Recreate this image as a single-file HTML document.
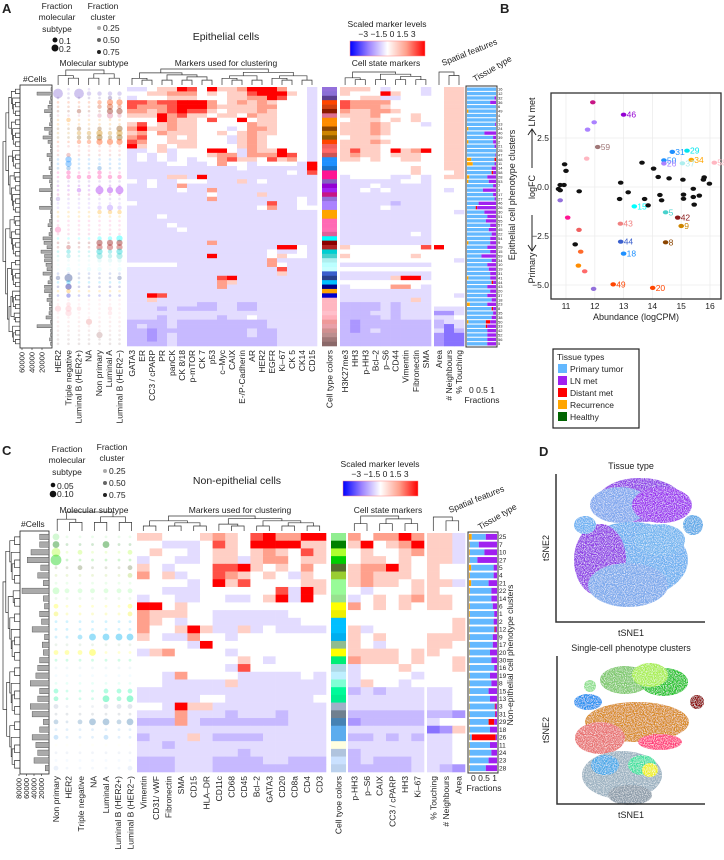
<!DOCTYPE html>
<html><head><meta charset="utf-8">
<style>
html,body{margin:0;padding:0;background:#fff;}
svg{display:block;font-family:"Liberation Sans",sans-serif;}
text{fill:#222;}
</style></head>
<body>
<svg id="fig" width="724" height="860" viewBox="0 0 724 860" xmlns="http://www.w3.org/2000/svg">
<defs>
<linearGradient id="cbar" x1="0" x2="1" y1="0" y2="0">
<stop offset="0" stop-color="#0000ff"/><stop offset="0.25" stop-color="#9b82ff"/><stop offset="0.5" stop-color="#ffffff"/><stop offset="0.75" stop-color="#ffa08c"/><stop offset="1" stop-color="#ff0000"/>
</linearGradient>
<filter id="speck" x="0" y="0" width="1" height="1">
<feTurbulence type="fractalNoise" baseFrequency="0.9" numOctaves="2" seed="3" result="n"/>
<feColorMatrix in="n" type="matrix" values="0 0 0 0 1  0 0 0 0 1  0 0 0 0 1  0 0 0 -2.2 1.25" result="m"/>
<feComposite in="m" in2="SourceGraphic" operator="in" result="w"/>
<feMerge><feMergeNode in="SourceGraphic"/><feMergeNode in="w"/></feMerge>
</filter>
</defs>

<g font-size="8.5">
<text x="2" y="13" font-size="13" font-weight="bold">A</text>
<text x="57" y="9" text-anchor="middle">Fraction</text>
<text x="57" y="20" text-anchor="middle">molecular</text>
<text x="57" y="32" text-anchor="middle">subtype</text>
<circle cx="55" cy="40" r="2.5" fill="#111"/>
<text x="59" y="44">0.1</text>
<circle cx="55" cy="48" r="3.5" fill="#111"/>
<text x="59" y="52">0.2</text>
<text x="103" y="9" text-anchor="middle">Fraction</text>
<text x="103" y="20" text-anchor="middle">cluster</text>
<circle cx="99" cy="28" r="2" fill="#aaa"/>
<text x="103" y="31">0.25</text>
<circle cx="99" cy="40" r="2" fill="#666"/>
<text x="103" y="43">0.50</text>
<circle cx="99" cy="52" r="2" fill="#222"/>
<text x="103" y="55">0.75</text>
<text x="226" y="40" text-anchor="middle" font-size="10.5">Epithelial cells</text>
<text x="387" y="27" text-anchor="middle">Scaled marker levels</text>
<text x="387" y="37" text-anchor="middle">−3 −1.5 0  1.5  3</text>
<rect x="350" y="41" width="75" height="15" fill="url(#cbar)" stroke="#f88" stroke-width="0.5"/>
<text x="94" y="66" text-anchor="middle">Molecular subtype</text>
<text x="226" y="66" text-anchor="middle">Markers used for clustering</text>
<text x="386" y="66" text-anchor="middle">Cell state markers</text>
<text x="443" y="66" transform="rotate(-22 443 66)">Spatial features</text>
<text x="475" y="82" transform="rotate(-30 475 82)">Tissue type</text>
<text x="23" y="82">#Cells</text>
<text x="482" y="403" text-anchor="middle">Fractions</text>
<text x="482" y="393" text-anchor="middle">0  0.5  1</text>
</g>

<g font-size="8.5">
<text x="2" y="455" font-size="13" font-weight="bold">C</text>
<text x="67" y="452" text-anchor="middle">Fraction</text>
<text x="67" y="463" text-anchor="middle">molecular</text>
<text x="67" y="475" text-anchor="middle">subtype</text>
<circle cx="53" cy="485" r="2.3" fill="#111"/>
<text x="57" y="489">0.05</text>
<circle cx="53" cy="494" r="3.3" fill="#111"/>
<text x="57" y="497">0.10</text>
<text x="112" y="450" text-anchor="middle">Fraction</text>
<text x="112" y="461" text-anchor="middle">cluster</text>
<circle cx="105" cy="471" r="2" fill="#aaa"/>
<text x="109" y="474">0.25</text>
<circle cx="105" cy="483" r="2" fill="#666"/>
<text x="109" y="486">0.50</text>
<circle cx="105" cy="495" r="2" fill="#222"/>
<text x="109" y="498">0.75</text>
<text x="237" y="484" text-anchor="middle" font-size="10.5">Non-epithelial cells</text>
<text x="380" y="467" text-anchor="middle">Scaled marker levels</text>
<text x="380" y="477" text-anchor="middle">−3 −1.5 0  1.5  3</text>
<rect x="343" y="481" width="75" height="15" fill="url(#cbar)" stroke="#f88" stroke-width="0.5"/>
<text x="94" y="513" text-anchor="middle">Molecular subtype</text>
<text x="240" y="513" text-anchor="middle">Markers used for clustering</text>
<text x="388" y="513" text-anchor="middle">Cell state markers</text>
<text x="450" y="513" transform="rotate(-22 450 513)">Spatial features</text>
<text x="480" y="530" transform="rotate(-30 480 530)">Tissue type</text>
<text x="21" y="527">#Cells</text>
<text x="484" y="791" text-anchor="middle">Fractions</text>
<text x="484" y="781" text-anchor="middle">0  0.5  1</text>
<text x="513" y="655" transform="rotate(-90 513 655)" text-anchor="middle">Non-epithelial cell phenotype clusters</text>
</g>

<g font-size="8.5">
<text x="500" y="13" font-size="13" font-weight="bold">B</text>
<text x="515" y="195" transform="rotate(-90 515 195)" text-anchor="middle" font-size="9">Epithelial cell phenotype clusters</text>
<text x="636" y="320" text-anchor="middle" font-size="9">Abundance (logCPM)</text>
<text x="535" y="187" transform="rotate(-90 535 187)" text-anchor="middle" font-size="9">logFC</text>
<text x="535" y="112" transform="rotate(-90 535 112)" text-anchor="middle" font-size="9">LN met</text>
<text x="535" y="268" transform="rotate(-90 535 268)" text-anchor="middle" font-size="9">Primary</text>
<path d="M532 168 L532 130 M528 135 L532 129 L536 135" stroke="#222" fill="none"/>
<path d="M532 215 L532 250 M528 245 L532 251 L536 245" stroke="#222" fill="none"/>
<g>
<rect x="553" y="349" width="86" height="79" fill="#fff" stroke="#222" stroke-width="1.2"/>
<text x="557" y="360">Tissue types</text>
<rect x="558" y="364" width="9" height="9" fill="#63b8ff"/><text x="570" y="372">Primary tumor</text>
<rect x="558" y="376" width="9" height="9" fill="#a020f0"/><text x="570" y="384">LN met</text>
<rect x="558" y="388" width="9" height="9" fill="#ff0000"/><text x="570" y="396">Distant met</text>
<rect x="558" y="400" width="9" height="9" fill="#ffa500"/><text x="570" y="408">Recurrence</text>
<rect x="558" y="412" width="9" height="9" fill="#006400"/><text x="570" y="420">Healthy</text>
</g>
</g>

<g font-size="9">
<text x="539" y="456" font-size="13" font-weight="bold">D</text>
<text x="631" y="469" text-anchor="middle">Tissue type</text>
<g filter="url(#speck)">
<ellipse cx="640" cy="500" rx="42" ry="22" fill="#8f3fe8"/>
<ellipse cx="620" cy="505" rx="30" ry="18" fill="#7ea6ee"/>
<ellipse cx="662" cy="505" rx="30" ry="18" fill="#9b30f0"/>
<ellipse cx="632" cy="560" rx="56" ry="38" fill="#6aaef0"/>
<ellipse cx="600" cy="560" rx="26" ry="36" fill="#8f40e6"/>
<ellipse cx="628" cy="585" rx="40" ry="22" fill="#7aa8ec"/>
<ellipse cx="585" cy="525" rx="11" ry="9" fill="#6ab0f2"/>
<ellipse cx="693" cy="525" rx="10" ry="10" fill="#5aa8e8"/>
<ellipse cx="660" cy="540" rx="25" ry="16" fill="#70b4f0"/>
</g>
<path d="M556 474 L556 622 L705 622" stroke="#333" stroke-width="1.5" fill="none"/>
<text x="549" y="548" transform="rotate(-90 549 548)" text-anchor="middle">tSNE2</text>
<text x="631" y="636" text-anchor="middle">tSNE1</text>
<text x="631" y="651" text-anchor="middle">Single-cell phenotype clusters</text>
<g filter="url(#speck)">
<ellipse cx="625" cy="680" rx="25" ry="14" fill="#7cc86a"/>
<ellipse cx="664" cy="682" rx="24" ry="14" fill="#22c42a"/>
<ellipse cx="650" cy="675" rx="18" ry="12" fill="#a8ee50"/>
<ellipse cx="637" cy="722" rx="52" ry="20" fill="#d88a20"/>
<ellipse cx="600" cy="738" rx="25" ry="16" fill="#e87070"/>
<ellipse cx="660" cy="742" rx="22" ry="8" fill="#ff3d7a"/>
<ellipse cx="622" cy="775" rx="40" ry="24" fill="#9ab0c0"/>
<ellipse cx="605" cy="765" rx="14" ry="10" fill="#44a8e8"/>
<ellipse cx="642" cy="765" rx="14" ry="10" fill="#3fe0a0"/>
<ellipse cx="588" cy="702" rx="14" ry="8" fill="#2090f0"/>
<ellipse cx="697" cy="702" rx="7" ry="7" fill="#8b0000"/>
<ellipse cx="590" cy="686" rx="6" ry="6" fill="#90e090"/>
<ellipse cx="650" cy="770" rx="8" ry="7" fill="#f0f020"/>
<ellipse cx="630" cy="795" rx="22" ry="10" fill="#8a9aa8"/>
</g>
<path d="M557 656 L557 804 L705 804" stroke="#333" stroke-width="1.5" fill="none"/>
<text x="549" y="730" transform="rotate(-90 549 730)" text-anchor="middle">tSNE2</text>
<text x="631" y="818" text-anchor="middle">tSNE1</text>
</g>

<g id="dyn"></g>
</svg>

<script>
// ===================== DATA =====================
const aMarkerLabels = ["GATA3","ER","CC3 / cPARP","PR","panCK","CK 8/18","p-mTOR","CK 7","p53","c–Myc","CAIX","E-/P-Cadherin","AR","HER2","EGFR","Ki–67","CK 5","CK14","CD15"];
const aStateLabels = ["H3K27me3","HH3","p-HH3","Bcl–2","p–S6","CD44","Vimentin","Fibronectin","SMA"];
const aSpatialLabels = ["Area","# Neighbours","% Touching"];
const aSubtypeLabels = ["HER2","Triple negative","Luminal B (HER2+)","NA","Non primary","Luminal A","Luminal B (HER2−)"];
const aMarkers = ["3345587485568886443","4455666454557888543","3444555444556687443","7767788864565654443","7666788865555664443","6656787754555654443","5558675545546554443","4448655474484554443","5745655444446554443","6855655444346654443","5646555445456554443","6744545444356544443","7644555444356544443","8545455444456544443","3345344488436558443","3434344456636668743","3434343446755475643","3333443346443444438","3333333333343333338","3333333333333333437","3333553833333333333","4343344433353433333","3343363333333333333","3333343363333333333","3333333343333533333","3333333363333333343","4333333333333373343","3333333333333463344","3333333333333333333","3334333333333333333","3333333333333333333","3333433333333333333","3333343333333333333","3333333333333333333","3333333333333333333","3333333363333333333","3333333333333338843","3333333333333343343","3333333383333345443","3333333333333363333","4444433333333364333","3333333333333337333","3333333333333335333","3333333337833333333","3333333336533333333","3333333336333333333","3333333333333333333","3387333333333333333","3353333333333333333","3333333223322333333","3332322223322333333","3333333333333333333","3332333332334333333","2222322222222233333","2322322222222233333","2212222222223223333","2212322222223223333","2212322222222223333","2222322222222223333"];
const aStates = ["555434443","544485443","445533444","766664444","766654444","655665444","555644454","455545454","555654443","555654444","555654444","455544444","555654444","555544444","575548568","565545554","554544554","444444444","444444454","444444454","344443343","333333443","333433333","334343333","333333333","333333333","333332333","333343333","333333333","333333333","333333333","333333333","333333333","333333343","333333333","333333333","544444447","444444444","544444454","444444444","333333333","444444444","333333333","333335883","444444444","344446643","333333333","333333333","333333353","222232333","222232333","222332333","222232333","212222222","212222222","212322222","222222222","222222222","222222222"];
const aSpatial = ["455","455","455","455","455","455","455","455","455","455","455","455","455","455","455","455","455","455","455","445","455","444","444","434","444","444","444","444","443","444","444","444","444","444","444","444","844","444","444","443","444","444","444","444","444","444","444","443","444","444","333","113","334","233","203","302","100","100","100"];
const aTypeColors = ["#9370db","#8a6fd6","#5a3f8f","#ff4500","#d2400f","#8b1a00","#db7093","#ff8c00","#ff8c00","#8b4500","#cd8500","#8b5a00","#ff4500","#f06060","#ff6a6a","#cd5555","#1e90ff","#1e90ff","#1874cd","#ff1493","#ff1493","#8460c0","#9400d3","#a020f0","#c71585","#9370db","#ab82ff","#ab82ff","#ffa500","#ffa500","#ff69b4","#ff69b4","#ff6eb4","#e0609a","#00ffff","#8b0000","#b22222","#00ced1","#48d1cc","#aeeeee","#bbffff","#c8ffff","#3a5fcd","#27408b","#00bfff","#00008b","#ffa500","#0000cd","#ffb6c1","#ffb6c1","#ffb6c1","#ffc0cb","#ffb0bb","#ee9999","#e8a0a8","#d09090","#bc8f8f","#a07878","#8b6969"];
const aCells = [2000,30000,3000,5000,8000,15000,4000,3000,5000,15000,6000,18000,8000,3000,3000,10000,5000,2000,6000,3000,18000,5000,3000,25000,2000,3000,2000,25000,3000,2000,5000,8000,3000,6000,18000,16000,10000,22000,15000,15000,12000,10000,18000,4000,8000,15000,15000,6000,10000,5000,5000,6000,12000,3000,30000,3000,3000,5000,3000];
const aCellTicks = [60000,40000,20000];
const aDots = ["0101000","5152222","1111121","1111233","1111232","1121133","1111232","1211111","1111111","1121213","1122323","1122323","1122333","1111111","1011111","1211111","1311111","1311111","1211211","1211211","1222222","1111111","1111111","1121434","1111111","2111111","1111111","1111232","1111222","1111111","1111111","1111111","3111111","1111111","1111223","1111333","1211333","1211323","1211323","1111222","1111111","1212212","1111111","2411112","1211111","1311111","1211111","1211111","1111111","1211111","3321121","1311121","1111111","1113111","1111111","1111111","1111311","1111111","1111111"];
const aLN = [0,0,0.05,0.2,0,0,0,0,0.03,0,0.4,0.1,0.1,0.05,0,0.02,0,0.05,0.15,0.1,0.3,0.25,0.1,0.45,0.1,0.05,0.6,0.65,0.4,0.3,0.35,0.2,0.25,0.15,0.2,0.2,0.3,0.2,0.5,0.15,0.3,0.25,0.2,0.2,0.1,0.3,0.2,0.3,0.15,0.3,0.1,0.1,0.15,0.2,0.3,0.3,0.3,0.3,0.3];
const aRec = [0,0,0,0,0,0.05,0,0,0,0.05,0,0,0.05,0,0,0,0.15,0.2,0,0,0.08,0.05,0,0,0,0,0,0,0,0,0,0,0,0,0,0.05,0,0,0,0,0,0,0,0.05,0,0,0,0,0,0.1,0,0,0,0.05,0,0,0,0,0];
const aDist = [0,0,0,0,0,0,0,0,0,0,0,0,0,0,0,0,0.05,0,0,0.05,0,0,0,0,0,0,0,0.05,0,0,0,0,0,0,0,0,0,0,0,0,0,0,0,0,0.05,0,0,0,0,0,0.05,0,0,0.15,0.05,0,0,0,0];
const aRowLabels = ["16","12","32","36","6","49","4","1","13","24","40","39","2","21","25","47","48","11","14","58","28","53","7","3","17","27","46","26","30","51","55","57","45","22","54","9","29","15","59","34","10","19","31","41","44","43","20","37","18","23","8","35","38","50","33","42","52","56","5"];

const cMarkerLabels = ["Vimentin","CD31/ vWF","Fibronectin","SMA","CD15","HLA–DR","CD11c","CD68","CD45","Bcl–2","GATA3","CD20","CD8a","CD4","CD3"];
const cStateLabels = ["p-HH3","p–S6","CAIX","CC3 / cPARP","HH3","Ki–67"];
const cSpatialLabels = ["% Touching","# Neighbours","Area"];
const cSubtypeLabels = ["Non primary","HER2","Triple negative","NA","Luminal A","Luminal B (HER2+)","Luminal B (HER2−)"];
const cMarkers = ["554445654786688","443334754888855","454434554565475","344334553566455","543444778545464","645344765454354","444434857444455","443334444447385","344334433458384","884544444444444","655544333333444","654344333333344","644585335343333","543364434444444","444438444444444","356444434444444","444444445434444","444444437444444","443644443333343","443333353333333","333333333333333","333334433333334","443855333333333","333633323332333","222632222222333","333333333333333","233353222233333","332333333333333","333333332333333","222333222233222","222333222222222"];
const cStates = ["646686","584568","454456","455454","566854","565554","565545","434445","345456","645454","444444","444444","534444","545444","543444","555545","655545","344454","344443","354434","232333","333333","333333","222222","122222","333333","223232","333333","233333","232223","222223"];
const cSpatial = ["553","553","553","553","544","544","553","544","554","554","444","445","445","555","554","544","445","445","444","444","334","334","334","221","344","015","334","334","334","334","321"];
const cTypeColors = ["#90ee90","#008000","#adff2f","#00cd00","#556b2f","#9acd32","#98fb98","#98fb98","#98e28f","#ffff00","#eeee00","#00bfff","#00bfff","#00aeef","#8fbc8f","#ffff00","#00ee76","#add8e6","#bfefff","#7fffd4","#00fa9a","#00ee90","#a0b0c8","#708090","#4682b4","#5cacee","#5cacee","#ffffe0","#b0c4de","#cae1ff","#bcd2ee"];
const cCells = [25000,25000,48000,58000,22000,30000,15000,72000,15000,12000,25000,20000,45000,12000,18000,15000,25000,30000,35000,50000,25000,30000,50000,45000,15000,25000,45000,35000,30000,40000,10000];
const cCellTicks = [80000,60000,40000,20000];
const cDots = ["3111111","3111311","4121112","5111111","1121112","1111112","1111111","3222222","1111111","2111112","2111112","1111111","1111111","1123333","1111111","2223111","1111111","1111111","1111111","1111111","2111222","2111323","2111222","1111111","2123323","1111111","2111211","1111111","1111111","1111111","2111112"];
const cLN = [0.4,0.65,0.45,0.7,0.12,0.12,0.3,0.2,0.2,0.15,0.1,0.12,0.05,0.15,0.15,0.25,0.2,0.1,0.25,0.2,0.3,0.25,0.05,0.05,0.1,0.25,0.05,0.25,0.2,0.3,0.4];
const cRec = [0.1,0.02,0.03,0.02,0.08,0.03,0.08,0.03,0.02,0.03,0.03,0.02,0.02,0.02,0.02,0.02,0.02,0.02,0.02,0.02,0.02,0.02,0.02,0.02,0.02,0.02,0.02,0.02,0.02,0.02,0.02];
const cDist = [0,0,0,0,0,0,0,0,0,0,0,0,0.04,0,0,0,0,0,0,0,0,0,0.03,0.02,0.2,0,0.85,0,0,0,0];
const cRowLabels = ["25","7","10","27","5","4","21","22","14","6","1","2","12","9","17","20","30","16","19","8","15","13","3","31","29","18","26","11","24","23","28"];

const bX = [11.93,13.0,11.98,11.75,12.1,11.72,10.95,11.0,10.8,10.93,10.74,10.8,11.46,10.8,11.06,11.45,11.32,11.51,11.43,11.65,11.96,12.64,14.01,12.9,12.86,13.16,13.64,14.04,14.2,14.58,14.26,14.32,13.73,13.85,13.37,14.46,14.88,15.0,14.46,12.89,12.9,13.0,14.4,14.69,15.2,15.35,15.04,14.4,16.15,15.06,15.08,15.08,15.42,15.42,15.45,15.63,15.8,15.77,15.98];
const bY = [4.32,3.69,3.30,2.93,2.04,1.45,1.16,0.82,0.1,0.1,-0.1,-0.17,-0.22,-0.68,-1.56,-2.19,-2.93,-3.3,-4.01,-4.3,-5.2,-4.97,-5.15,0.22,-0.61,-0.27,1.24,0.94,0.51,0.44,-0.41,-0.68,-0.61,-0.94,-0.99,-1.29,-1.56,-1.99,-2.82,-1.87,-2.79,-3.4,1.36,1.79,1.85,1.39,1.21,1.2,1.24,0.37,-0.39,-0.6,-0.09,-0.51,-0.9,-0.44,0.49,0.37,0.17];
const bColors = ["#c71585","#9400d3","#ab82ff","#ab82ff","#a07878","#ffb6c1","#111","#111","#111","#111","#111","#111","#111","#9370db","#ff1493","#f06060","#111","#ff6a2a","#ff8c00","#ff6a6a","#9370db","#ff4500","#ff4500","#111","#111","#111","#111","#111","#111","#111","#111","#111","#111","#111","#00ffff","#48d1cc","#8b1a1a","#cd8500","#8b4500","#f08080","#3a5fcd","#1e90ff","#1e90ff","#1e90ff","#00e5ee","#ffa500","#aeeeee","#ab82ff","#ffb6c1","#111","#111","#111","#111","#111","#111","#111","#111","#111","#111"];
const bLabels = ["","46","","","59","","","","","","","","","","","","","","","","","49","20","","","","","","","","","","","","15","5","42","9","8","43","44","18","50","31","29","34","37","26","58","","","","","","","","","",""];
const bXTicks = [11,12,13,14,15,16];
const bYTicks = [-5.0,-2.5,0.0,2.5];

// ===================== DRAW =====================
const NS = "http://www.w3.org/2000/svg";
const root = document.getElementById("dyn");
function mk(tag, attrs, parent){ const e=document.createElementNS(NS,tag); for(const k in attrs) e.setAttribute(k,attrs[k]); (parent||root).appendChild(e); return e; }

function heatColor(v){
  const t=Math.max(-1,Math.min(1,v/3));
  let r,g,b;
  if(t<0){ const s=-t; if(s<0.5){const u=s/0.5; r=255+(155-255)*u; g=255+(130-255)*u; b=255;} else {const u=(s-0.5)/0.5; r=155*(1-u); g=130*(1-u); b=255;} }
  else { const s=t; if(s<0.5){const u=s/0.5; r=255; g=255+(160-255)*u; b=255+(140-255)*u;} else {const u=(s-0.5)/0.5; r=255; g=160*(1-u); b=140*(1-u);} }
  return `rgb(${r|0},${g|0},${b|0})`;
}
function levelToValue(ch){ const d=parseInt(ch,10)-4; return d>=0 ? d*0.75 : d*0.42; }

function drawHeat(rows, x0, x1, y0, rowH, name){
  const g=mk("g",{});
  
  
  const nc=rows[0].length, cw=(x1-x0)/nc;
  rows.forEach((s,i)=>{ for(let j=0;j<nc;j++){
    const r=mk("rect",{x:(x0+j*cw).toFixed(2),y:(y0+i*rowH).toFixed(2),width:(cw+0.3).toFixed(2),height:(rowH+0.3).toFixed(2),fill:heatColor(levelToValue(s[j]))},g);
    
    
  }});
  return cw;
}
function drawColLabels(labels, x0, cw, ytop, fs, name){
  labels.forEach((l,j)=>{
    const x=x0+(j+0.5)*cw+fs*0.35;
    const t=mk("text",{x:x.toFixed(1),y:ytop,transform:`rotate(-90 ${x.toFixed(1)} ${ytop})`,"text-anchor":"end","font-size":fs});
    t.textContent=l;
    
    
  });
}
function drawTypeColors(cols, x0, w, y0, rowH, name){
  cols.forEach((c,i)=>{
    const r=mk("rect",{x:x0,y:(y0+i*rowH).toFixed(2),width:w,height:(rowH+0.3).toFixed(2),fill:c});
    
    
  });
}
function drawCells(vals, axisX, pxPer, y0, rowH, ticks, name, boxLeft){
  mk("rect",{x:boxLeft,y:y0-2,width:axisX-boxLeft,height:vals.length*rowH+4,fill:"none",stroke:"#222","stroke-width":0.8});
  vals.forEach((v,i)=>{
    const w=v*pxPer;
    const r=mk("rect",{x:(axisX-w).toFixed(2),y:(y0+i*rowH+rowH*0.15).toFixed(2),width:w.toFixed(2),height:(rowH*0.7).toFixed(2),fill:"#aaa",stroke:"#444","stroke-width":0.4});
    
    
  });
  const yb=y0+vals.length*rowH+2;
  ticks.forEach(tk=>{
    const x=axisX-tk*pxPer;
    mk("line",{x1:x,x2:x,y1:yb,y2:yb+2,stroke:"#222","stroke-width":0.6});
    const t=mk("text",{x:x+2.5,y:yb+4,transform:`rotate(-90 ${x+2.5} ${yb+4})`,"text-anchor":"end","font-size":7.5});
    t.textContent=tk;
    
    
  });
}
function drawDots(rows, colors, xs, y0, rowH, scale, name){
  rows.forEach((s,i)=>{ for(let j=0;j<s.length;j++){
    const v=parseInt(s[j],10); if(!v) continue;
    const c=mk("circle",{cx:xs[j],cy:(y0+(i+0.5)*rowH).toFixed(2),r:(0.4+v*scale).toFixed(2),fill:colors[i],"fill-opacity":v>2?0.4:(v>1?0.3:0.18)});
    
    
  }});
}
function drawTissue(ln, rec, dist, x0, w, y0, rowH, name, frame){
  if(frame) mk("rect",{x:x0-1,y:y0-1,width:w+2,height:ln.length*rowH+2,fill:"none",stroke:"#333","stroke-width":1});
  ln.forEach((l,i)=>{
    const y=y0+i*rowH+rowH*0.12, h=rowH*0.76;
    const prim=Math.max(0,1-l-rec[i]-dist[i]);
    let x=x0;
    [[rec[i],"#ffa500"],[prim,"#63b8ff"],[dist[i],"#ff0000"],[l,"#a020f0"]].forEach(([f,c])=>{
      if(f<=0) return;
      const r=mk("rect",{x:x.toFixed(2),y:y.toFixed(2),width:(f*w).toFixed(2),height:h.toFixed(2),fill:c});
      
      
      x+=f*w;
    });
  });
}
function drawRowLabels(labels, x, y0, rowH, fs, name){
  labels.forEach((l,i)=>{
    const t=mk("text",{x:x,y:(y0+(i+0.5)*rowH+fs*0.35).toFixed(2),"font-size":fs});
    t.textContent=l;
    
    
  });
}
function rowDendro(n, y0, rowH, xRight, xLeft){
  let d="";
  function rec(a,b){
    if(b-a===1) return [y0+(a+0.5)*rowH, xRight];
    const m=a+Math.max(1,Math.floor((b-a)*(0.35+0.3*((a*7+b*3)%5)/4)));
    const l=rec(a,m), r=rec(m,b);
    const x=xRight-(xRight-xLeft)*Math.min(1,Math.log2(b-a+1)/Math.log2(n+1));
    d+=`M${l[1]} ${l[0].toFixed(1)}H${x.toFixed(1)}V${r[0].toFixed(1)}H${r[1]}`;
    return [(l[0]+r[0])/2, x];
  }
  rec(0,n);
  mk("path",{d:d,fill:"none",stroke:"#333","stroke-width":0.7});
}
function colDendro(x0, cw, n, yBottom, yTop){
  let d="";
  function rec(a,b){
    if(b-a===1) return [x0+(a+0.5)*cw, yBottom];
    const m=a+Math.max(1,Math.floor((b-a)*(0.4+0.2*((a*5+b)%3)/2)));
    const l=rec(a,m), r=rec(m,b);
    const y=yBottom-(yBottom-yTop)*Math.min(1,Math.log2(b-a+0.5)/Math.log2(n+0.5));
    d+=`M${l[0].toFixed(1)} ${l[1].toFixed(1)}V${y.toFixed(1)}H${r[0].toFixed(1)}V${r[1].toFixed(1)}`;
    return [(l[0]+r[0])/2, y];
  }
  rec(0,n);
  mk("path",{d:d,fill:"none",stroke:"#333","stroke-width":0.7});
}

// ---- Panel A ----
const aY0=87, aRowH=(346-87)/aMarkers.length;
const aDotX=[58,68.5,79,89,99.5,110,119.5];
rowDendro(aMarkers.length, aY0, aRowH, 20, 3);
drawCells(aCells, 52, 30/60000, aY0, aRowH, aCellTicks, "cells-a", 20);
drawDots(aDots, aTypeColors, aDotX, aY0, aRowH, 0.9, "subtype-a");
const aCw=drawHeat(aMarkers, 127, 317, aY0, aRowH, "heatmap-markers-a");
drawTypeColors(aTypeColors, 322, 15, aY0, aRowH, "cell-type-color-a");
const aSw=drawHeat(aStates, 340, 431, aY0, aRowH, "heatmap-state-a");
const aPw=drawHeat(aSpatial, 434, 464, aY0, aRowH, "heatmap-spatial-a");
drawTissue(aLN, aRec, aDist, 467, 29, aY0, aRowH, "tissue-a", true);
drawRowLabels(aRowLabels, 498, aY0, aRowH, 4, "row-label-a");
colDendro(aDotX[0]-5, 10.2, 7, 85, 70);
colDendro(127, aCw, 19, 85, 69);
colDendro(340, aSw, 9, 85, 72);
colDendro(434, aPw, 3, 85, 72);
drawColLabels(aSubtypeLabels, aDotX[0]-5, 10.2, 350, 8.5, "subtype-a");
drawColLabels(aMarkerLabels, 127, aCw, 350, 8.5, "marker-a");
drawColLabels(["Cell type colors"], 322, 15, 350, 8.5, "cell-type-a");
drawColLabels(aStateLabels, 340, aSw, 350, 8.5, "state-a");
drawColLabels(aSpatialLabels, 434, aPw, 350, 8.5, "spatial-a");

// ---- Panel C ----
const cY0=533, cRowH=(772-533)/cMarkers.length;
const cDotX=[56,67,80,92.5,106,119,130];
rowDendro(cMarkers.length, cY0, cRowH, 20, 3);
drawCells(cCells, 49, 30/80000, cY0, cRowH, cCellTicks, "cells-c", 20);
drawDots(cDots, cTypeColors, cDotX, cY0, cRowH, 1.0, "subtype-c");
const cCw=drawHeat(cMarkers, 137, 326, cY0, cRowH, "heatmap-markers-c");
drawTypeColors(cTypeColors, 331, 15, cY0, cRowH, "cell-type-color-c");
const cSw=drawHeat(cStates, 348, 424, cY0, cRowH, "heatmap-state-c");
const cPw=drawHeat(cSpatial, 427, 465, cY0, cRowH, "heatmap-spatial-c");
drawTissue(cLN, cRec, cDist, 469, 28, cY0, cRowH, "tissue-c", true);
drawRowLabels(cRowLabels, 499, cY0, cRowH, 6.5, "row-label-c");
colDendro(cDotX[0]-5, 12.4, 7, 531, 512);
colDendro(137, cCw, 15, 531, 516);
colDendro(348, cSw, 6, 531, 516);
colDendro(427, cPw, 3, 531, 517);
drawColLabels(cSubtypeLabels, cDotX[0]-6, 12.4, 776, 8.5, "subtype-c");
drawColLabels(cMarkerLabels, 137, cCw, 776, 8.5, "marker-c");
drawColLabels(["Cell tyoe colors"], 331, 15, 776, 8.5, "cell-type-c");
drawColLabels(cStateLabels, 348, cSw, 776, 8.5, "state-c");
drawColLabels(cSpatialLabels, 427, cPw, 776, 8.5, "spatial-c");

// ---- Panel B ----
const bL=551, bR=721, bT=93, bB=299;
const bx=v=>566+(v-11)*28.8;
const by=v=>187-v*19.6;
bXTicks.forEach(t=>{ mk("line",{x1:bx(t),x2:bx(t),y1:bT,y2:bB,stroke:"#ececec","stroke-width":0.8});
  const tx=mk("text",{x:bx(t),y:bB+10,"text-anchor":"middle","font-size":8.5}); tx.textContent=t;
  
   });
bYTicks.forEach(t=>{ mk("line",{x1:bL,x2:bR,y1:by(t),y2:by(t),stroke:"#ececec","stroke-width":0.8});
  const tx=mk("text",{x:bL-2,y:by(t)+3,"text-anchor":"end","font-size":8.5}); tx.textContent=t.toFixed(1).replace("-","−");
  
   });
mk("rect",{x:bL,y:bT,width:bR-bL,height:bB-bT,fill:"none",stroke:"#333","stroke-width":1.3});
bX.forEach((v,i)=>{
  const p=mk("ellipse",{cx:bx(v).toFixed(1),cy:by(bY[i]).toFixed(1),rx:2.8,ry:2.1,fill:bColors[i]});
  
  
  if(bLabels[i]){
    const t=mk("text",{x:(bx(v)+3).toFixed(1),y:(by(bY[i])+3).toFixed(1),"font-size":8.5});
    t.setAttribute("style","fill:"+bColors[i]);
    t.textContent=bLabels[i];
    
    
  }
});
</script>
</body></html>
